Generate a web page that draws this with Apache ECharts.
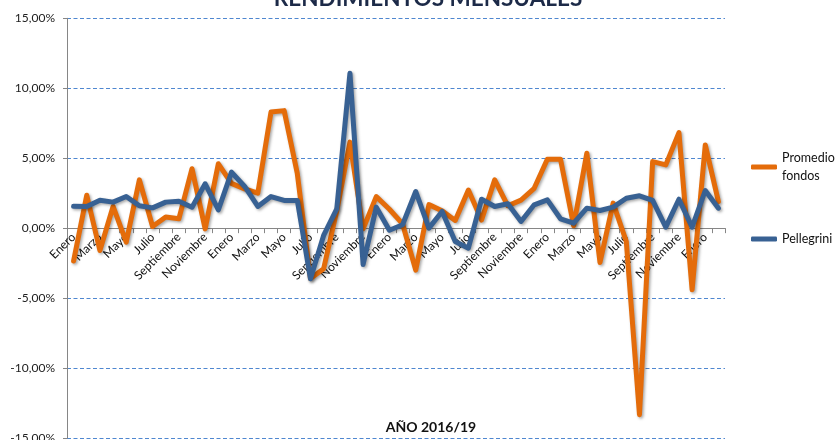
<!DOCTYPE html>
<html>
<head>
<meta charset="utf-8">
<script src="https://cdn.jsdelivr.net/npm/echarts@6/dist/echarts.min.js"></script>
<style>
html,body{margin:0;padding:0;background:#fff;}
#c{width:839px;height:440px;}
</style>
</head>
<body>
<div id="c"></div>
<script>
var monthNames = ['Enero','Febrero','Marzo','Abril','Mayo','Junio','Julio','Agosto','Septiembre','Octubre','Noviembre','Diciembre'];
var categories = [];
for (var k = 0; k < 50; k++) categories.push(monthNames[k % 12]);

var promedioFondos = [-2.35, 2.35, -1.6, 1.55, -1.0, 3.45, 0.12, 0.8, 0.67, 4.25,
  -0.05, 4.6, 3.2, 2.8, 2.5, 8.3, 8.4, 3.9, -3.6, -2.9,
  1.25, 6.15, -0.05, 2.25, 1.35, 0.3, -3.0, 1.68, 1.25, 0.55,
  2.72, 0.58, 3.45, 1.6, 2.0, 2.85, 4.93, 4.93, 0.17, 5.36,
  -2.45, 1.79, -0.95, -13.33, 4.76, 4.52, 6.83, -4.4, 5.95, 1.9];

var pellegrini = [1.57, 1.55, 2.0, 1.86, 2.26, 1.6, 1.45, 1.86, 1.93, 1.5,
  3.17, 1.3, 4.0, 2.98, 1.55, 2.26, 1.98, 1.98, -3.62, -0.52,
  1.38, 11.07, -2.6, 1.5, -0.15, 0.24, 2.62, 0.0, 1.19, -0.95,
  -1.43, 2.07, 1.55, 1.74, 0.48, 1.67, 2.02, 0.67, 0.36, 1.43,
  1.26, 1.5, 2.14, 2.31, 1.98, 0.07, 2.07, 0.07, 2.69, 1.43];

var seriesNames = ['Promedio fondos', 'Pellegrini'];
var titleText = 'RENDIMIENTOS MENSUALES';
var xAxisTitle = 'AÑO 2016/19';

var FONT = 'Lato';
var GRID_TOP = 18.3, GRID_BOTTOM = 2, CH = 440;
var Y_MIN = -15, Y_MAX = 15;
var plotH = CH - GRID_TOP - GRID_BOTTOM;
var zeroOffset = -plotH * (0 - Y_MIN) / (Y_MAX - Y_MIN);

var chart = echarts.init(document.getElementById('c'), null, {renderer: 'canvas'});
var shadow = {shadowColor: 'rgba(0,0,0,0.35)', shadowBlur: 3, shadowOffsetX: 1.5, shadowOffsetY: 1.5};

chart.setOption({
  animation: false,
  backgroundColor: '#ffffff',
  title: [
    {text: titleText, left: 428, textAlign: 'center', top: -13, padding: 0,
     textStyle: {fontFamily: FONT, fontWeight: 'bold', fontSize: 22.5, color: '#1c2a48'}},
    {text: xAxisTitle, left: 431, textAlign: 'center', top: 420, padding: 0,
     textStyle: {fontFamily: FONT, fontWeight: 'bold', fontSize: 14, color: '#111'}}
  ],
  legend: [
    {data: [seriesNames[0]], left: 751, top: 140, orient: 'vertical', padding: 0,
     icon: 'roundRect', itemWidth: 26, itemHeight: 5,
     formatter: function () { return 'Promedio\nfondos'; },
     textStyle: {fontFamily: FONT, fontSize: 12.5, color: '#111', lineHeight: 18, padding: [18, 0, 0, 0]}},
    {data: [seriesNames[1]], left: 751, top: 230, orient: 'vertical', padding: 0,
     icon: 'roundRect', itemWidth: 26, itemHeight: 5,
     textStyle: {fontFamily: FONT, fontSize: 12.5, color: '#111', lineHeight: 18}}
  ],
  grid: {left: 67, right: 114, top: GRID_TOP, bottom: GRID_BOTTOM, containLabel: false, outerBoundsMode: 'none'},
  xAxis: {
    type: 'category',
    data: categories,
    boundaryGap: true,
    position: 'bottom',
    offset: zeroOffset,
    axisLine: {onZero: false, lineStyle: {color: '#868686', width: 1}},
    axisTick: {show: true, interval: 0, length: 5, lineStyle: {color: '#868686'}},
    axisLabel: {interval: 1, rotate: 45, margin: 7, fontFamily: FONT, fontSize: 12, color: '#111'},
    splitLine: {show: false}
  },
  yAxis: {
    type: 'value',
    min: Y_MIN, max: Y_MAX, interval: 5,
    axisLine: {show: true, lineStyle: {color: '#868686'}},
    axisTick: {show: true, length: 4, lineStyle: {color: '#868686'}},
    axisLabel: {margin: 12, fontFamily: FONT, fontSize: 12, color: '#222',
      formatter: function (v) { return v.toFixed(2).replace('.', ',') + '%'; }},
    splitLine: {show: true, lineStyle: {color: '#4f87d0', width: 1, type: [4, 2.5]}}
  },
  series: [
    {name: seriesNames[0], type: 'line', data: promedioFondos, symbol: 'none',
     color: '#e46c0a',
     lineStyle: Object.assign({width: 5, color: '#e46c0a', cap: 'round', join: 'round'}, shadow)},
    {name: seriesNames[1], type: 'line', data: pellegrini, symbol: 'none',
     color: '#386193',
     lineStyle: Object.assign({width: 5, color: '#386193', cap: 'round', join: 'round'}, shadow)}
  ]
});
</script>
</body>
</html>
